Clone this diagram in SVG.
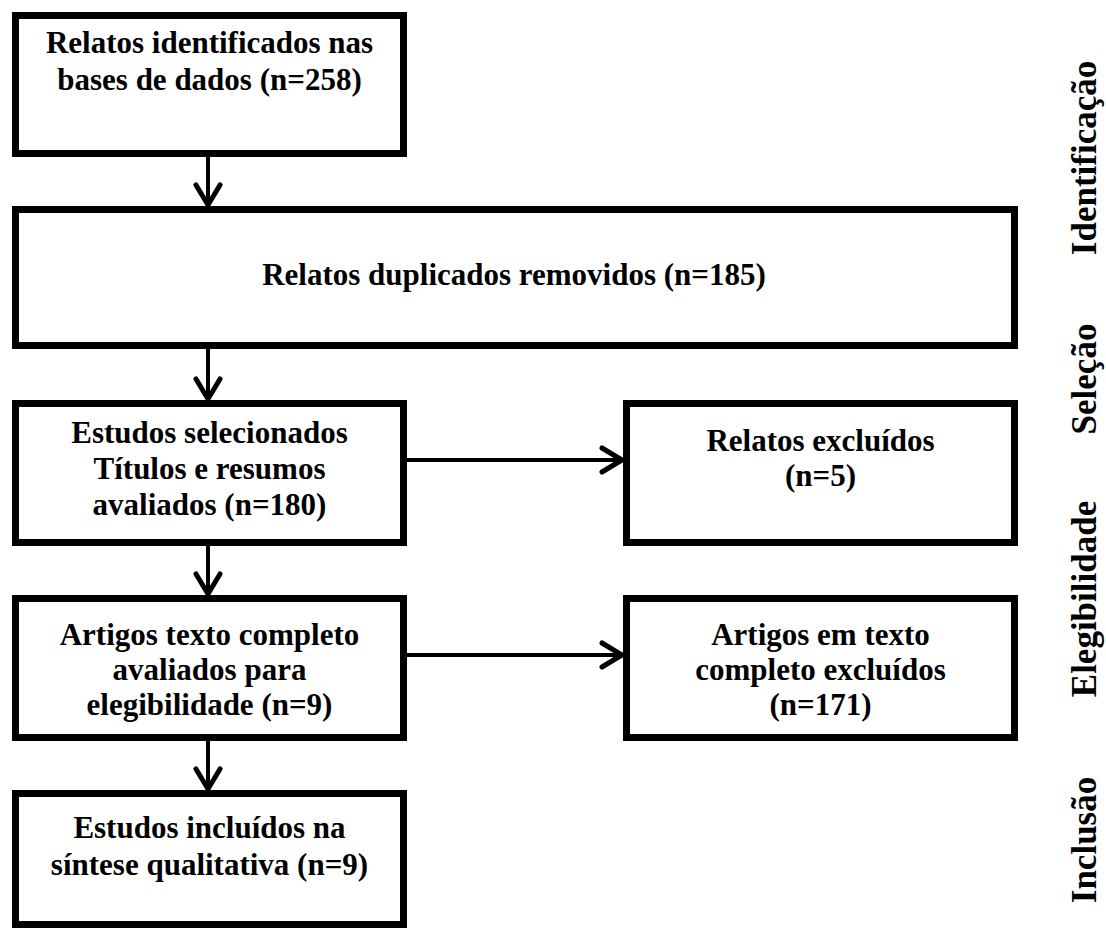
<svg xmlns="http://www.w3.org/2000/svg" width="1106" height="931" viewBox="0 0 1106 931">
<defs>
<style>
.box{fill:#fff;stroke:#000;stroke-width:7;stroke-linejoin:miter}
.t{font-family:"Liberation Serif","Times New Roman",serif;font-weight:bold;font-size:31px;fill:#000;text-anchor:middle}
.side{font-family:"Liberation Serif","Times New Roman",serif;font-weight:bold;font-size:35px;fill:#000;text-anchor:middle}
.conn{fill:none;stroke:#000;stroke-width:4}
</style>
<marker id="arr" markerUnits="userSpaceOnUse" markerWidth="40" markerHeight="40" refX="0" refY="0" orient="auto" overflow="visible" viewBox="-30 -20 40 40">
<path d="M-21,-12 L-1,0 L-21,12" fill="none" stroke="#000" stroke-width="5" stroke-linecap="round" stroke-linejoin="miter"/>
</marker>
</defs>
<rect width="1106" height="931" fill="#fff"/>
<g id="connectors">
<line class="conn" x1="208" y1="157" x2="208" y2="206" marker-end="url(#arr)"/>
<line class="conn" x1="208" y1="349" x2="208" y2="400" marker-end="url(#arr)"/>
<line class="conn" x1="208" y1="546" x2="208" y2="595" marker-end="url(#arr)"/>
<line class="conn" x1="208" y1="741" x2="208" y2="790" marker-end="url(#arr)"/>
<line class="conn" x1="407" y1="460" x2="623" y2="460" marker-end="url(#arr)"/>
<line class="conn" x1="407" y1="655" x2="623" y2="655" marker-end="url(#arr)"/>
</g>
<g id="n1"><rect class="box" x="15.5" y="15.5" width="388" height="138"/>
<text class="t" x="209.5" y="53">Relatos identificados nas</text>
<text class="t" x="209.5" y="90">bases de dados (n=258)</text></g>
<g id="n2"><rect class="box" x="15.5" y="209.5" width="999" height="136"/>
<text class="t" x="514" y="285">Relatos duplicados removidos (n=185)</text></g>
<g id="n3"><rect class="box" x="15.5" y="403.5" width="388" height="139"/>
<text class="t" x="209.5" y="443">Estudos selecionados</text>
<text class="t" x="209.5" y="479">Títulos e resumos</text>
<text class="t" x="209.5" y="515">avaliados (n=180)</text></g>
<g id="n4"><rect class="box" x="626.5" y="403.5" width="388" height="139"/>
<text class="t" x="820.5" y="451">Relatos excluídos</text>
<text class="t" x="820.5" y="486">(n=5)</text></g>
<g id="n5"><rect class="box" x="15.5" y="598.5" width="388" height="139"/>
<text class="t" x="209.5" y="645">Artigos texto completo</text>
<text class="t" x="209.5" y="680">avaliados para</text>
<text class="t" x="209.5" y="715">elegibilidade (n=9)</text></g>
<g id="n6"><rect class="box" x="626.5" y="598.5" width="388" height="139"/>
<text class="t" x="820.5" y="645">Artigos em texto</text>
<text class="t" x="820.5" y="680">completo excluídos</text>
<text class="t" x="820.5" y="715">(n=171)</text></g>
<g id="n7"><rect class="box" x="15.5" y="793.5" width="388" height="131"/>
<text class="t" x="209.5" y="838">Estudos incluídos na</text>
<text class="t" x="209.5" y="875">síntese qualitativa (n=9)</text></g>
<g id="stages">
<text class="side" transform="translate(1096,158) rotate(-90)">Identificação</text>
<text class="side" transform="translate(1096,379) rotate(-90)">Seleção</text>
<text class="side" transform="translate(1096,599) rotate(-90)">Elegibilidade</text>
<text class="side" transform="translate(1096,840) rotate(-90)">Inclusão</text>
</g>
</svg>
